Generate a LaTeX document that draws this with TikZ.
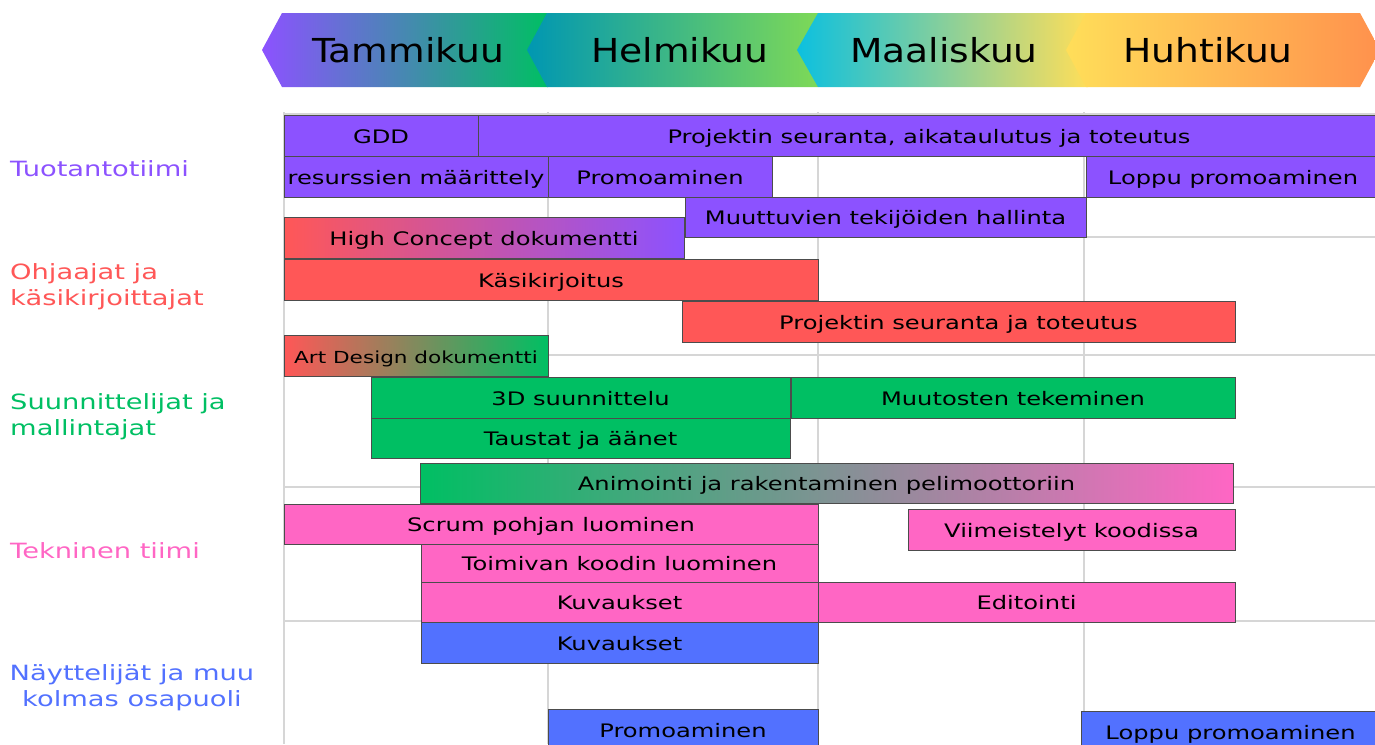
\documentclass[tikz,border=0pt]{standalone}
\usepackage{fontspec}
\setmainfont[FakeStretch=1.3]{DejaVu Sans}
\newfontfamily\monthfont[FakeStretch=1.14]{DejaVu Sans}
\usepackage{tikz}
\usetikzlibrary{positioning}
\usepackage{xcolor}

\definecolor{prodcol}{HTML}{8C52FF}
\definecolor{dircol}{HTML}{FF5757}
\definecolor{descol}{HTML}{00BF63}
\definecolor{techcol}{HTML}{FF66C4}
\definecolor{actcol}{HTML}{5271FF}
\definecolor{gridcol}{HTML}{D6D6D6}
\definecolor{tealcol}{HTML}{0097B2}
\definecolor{limecol}{HTML}{7ED957}
\definecolor{cyancol}{HTML}{0CC0DF}
\definecolor{yellowcol}{HTML}{FFDE59}
\definecolor{orangecol}{HTML}{FF914D}

\begin{document}
\begin{tikzpicture}[x=1pt, y=-1pt,
    task/.style={draw=black!70, line width=0.8pt, anchor=north west, inner sep=0pt, outer sep=0pt,
      minimum height=41pt, text height=15pt, text depth=0pt, font=\fontsize{18.6}{20}\selectfont},
    month/.style={anchor=base, font=\monthfont\fontsize{33}{36}\selectfont},
    team/.style={anchor=base west, inner sep=0pt, align=left, font=\fontsize{21}{26}\selectfont},
    gridline/.style={draw=gridcol, line width=2pt}]

      \useasboundingbox (0,0) rectangle (1375,744);

      \shade[left color=prodcol, right color=descol] (262,50) -- (282,13) -- (548,13) -- (548,87) -- (282,87) -- cycle;
      \shade[left color=tealcol, right color=limecol] (527,50) -- (547,13) -- (818,13) -- (818,87) -- (547,87) -- cycle;
      \shade[left color=cyancol, right color=yellowcol] (797,50) -- (818,13) -- (1088,13) -- (1088,87) -- (818,87) -- cycle;
      \shade[left color=yellowcol, right color=orangecol] (1066,50) -- (1086,13) -- (1360,13) -- (1380,50) -- (1360,87) -- (1086,87) -- cycle;

      \node[month] (jan) at (408,62) {Tammikuu};
      \node[month] (feb) at (680,62) {Helmikuu};
      \node[month] (mar) at (944,62) {Maaliskuu};
      \node[month] (apr) at (1208,62) {Huhtikuu};

      \foreach \y in {114,237,355,487,621} \draw[gridline] (283,\y) -- (1375,\y);
      \foreach \x in {284,548,818,1084} \draw[gridline] (\x,112) -- (\x,744);

      \node[team, text=prodcol] (prod) at (10,176) {Tuotantotiimi};
      \node[team, text=dircol] (dir) at (10,305) {Ohjaajat ja\\käsikirjoittajat};
      \node[team, text=descol] (des) at (10,435) {Suunnittelijat ja\\mallintajat};
      \node[team, text=techcol] (tech) at (10,558) {Tekninen tiimi};
      \node[team, text=actcol, align=center, anchor=base] (act) at (132,706) {Näyttelijät ja muu\\kolmas osapuoli};

      \node[task, fill=prodcol, minimum width=194pt] (gdd) at (284,115) {GDD};
      \node[task, fill=prodcol, minimum width=902pt] (track1) at (478,115) {Projektin seuranta, aikataulutus ja toteutus};
      \node[task, fill=prodcol, minimum width=264pt] (res) at (284,156) {resurssien määrittely};
      \node[task, fill=prodcol, minimum width=224pt] (promo1) at (548,156) {Promoaminen};
      \node[task, fill=prodcol, minimum width=294pt] (lastpromo1) at (1086,156) {Loppu promoaminen};
      \node[task, fill=prodcol, minimum width=401pt, minimum height=40pt] (vars) at (685,197) {Muuttuvien tekijöiden hallinta};

      \node[task, left color=dircol, right color=prodcol, minimum width=400pt] (concept) at (284,217) {High Concept dokumentti};
      \node[task, fill=dircol, minimum width=534pt] (script) at (284,259) {Käsikirjoitus};
      \node[task, fill=dircol, minimum width=553pt] (track2) at (682,301) {Projektin seuranta ja toteutus};
      \node[task, left color=dircol, right color=descol, minimum width=264pt, font=\fontsize{16.6}{20}\selectfont] (art) at (284,335) {Art Design dokumentti};

      \node[task, fill=descol, minimum width=419pt] (model) at (371,377) {3D suunnittelu};
      \node[task, fill=descol, minimum width=444pt] (changes) at (791,377) {Muutosten tekeminen};
      \node[task, fill=descol, minimum width=419pt, minimum height=40pt] (bg) at (371,418) {Taustat ja äänet};
      \node[task, left color=descol, right color=techcol, minimum width=813pt, minimum height=40pt] (anim) at (420,463) {Animointi ja rakentaminen pelimoottoriin};

      \node[task, fill=techcol, minimum width=534pt, minimum height=40pt] (scrum) at (284,504) {Scrum pohjan luominen};
      \node[task, fill=techcol, minimum width=327pt] (polish) at (908,509) {Viimeistelyt koodissa};
      \node[task, fill=techcol, minimum width=397pt, minimum height=38pt] (code) at (421,544) {Toimivan koodin luominen};
      \node[task, fill=techcol, minimum width=397pt, minimum height=40pt] (shoot1) at (421,582) {Kuvaukset};
      \node[task, fill=techcol, minimum width=417pt, minimum height=40pt] (edit) at (818,582) {Editointi};

      \node[task, fill=actcol, minimum width=397pt] (shoot2) at (421,622) {Kuvaukset};
      \node[task, fill=actcol, minimum width=270pt] (promo2) at (548,709) {Promoaminen};
      \node[task, fill=actcol, minimum width=299pt] (lastpromo2) at (1081,711) {Loppu promoaminen};

    \end{tikzpicture}
\end{document}
